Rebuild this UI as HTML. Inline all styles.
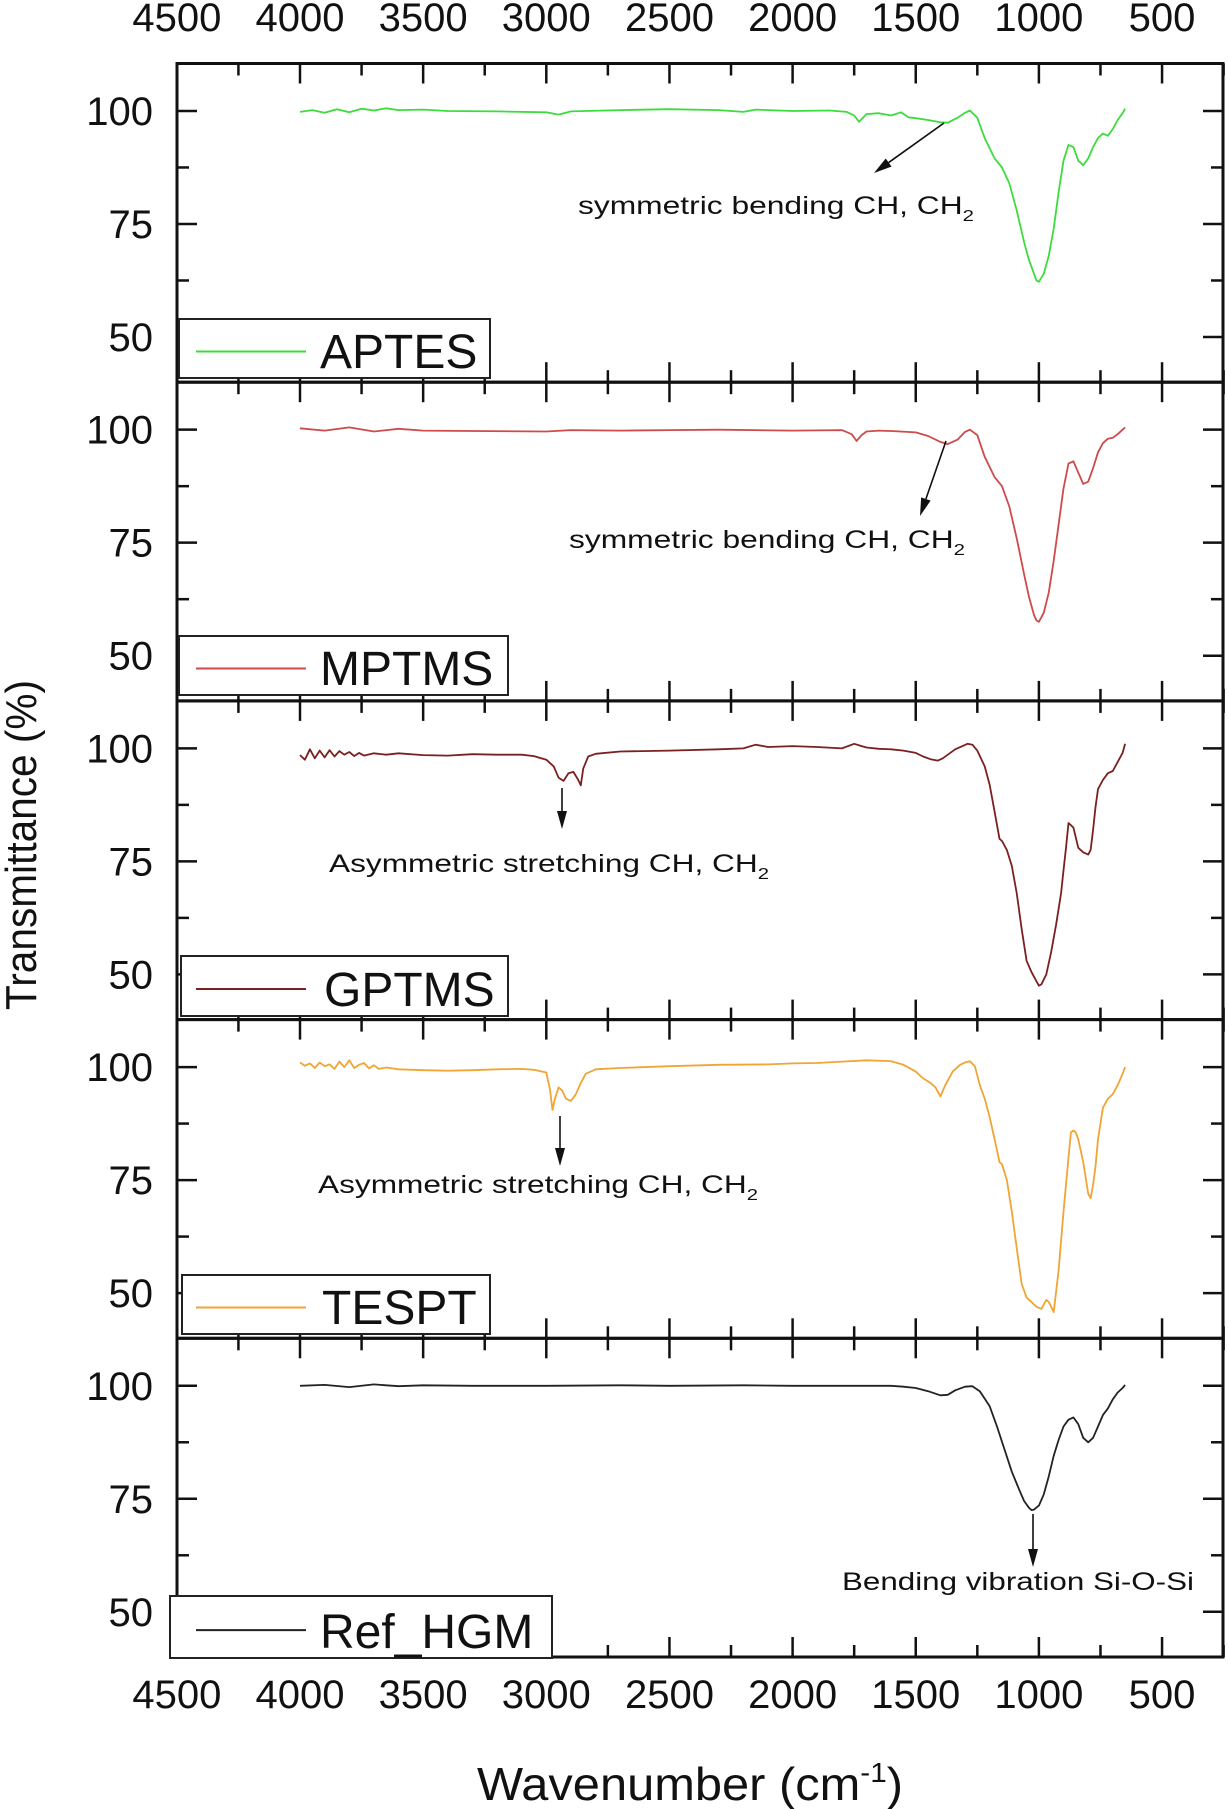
<!DOCTYPE html>
<html><head><meta charset="utf-8"><style>
html,body{margin:0;padding:0;background:#fff}
svg{display:block}
text{font-family:"Liberation Sans",Arial,sans-serif;fill:#111}
</style></head><body>
<svg id="chart" width="1228" height="1809" viewBox="0 0 1228 1809" xmlns="http://www.w3.org/2000/svg">
<g id="plots"></g>
<g id="axes"></g>
<text x="0" y="0" font-size="44" text-anchor="middle" textLength="330" lengthAdjust="spacingAndGlyphs" transform="translate(36,845) rotate(-90)">Transmittance (%)</text>
<text x="690" y="1800" font-size="46" text-anchor="middle" textLength="426" lengthAdjust="spacingAndGlyphs">Wavenumber (cm<tspan font-size="28" dy="-18">-1</tspan><tspan dy="18">)</tspan></text>
</svg>
<script>
// ---- data ----
const xTicks = [4500,4000,3500,3000,2500,2000,1500,1000,500];
const yTicks = [100,75,50];
const seriesNames = ["APTES","MPTMS","GPTMS","TESPT","Ref_HGM"];
const seriesColors = ["#3ddc3d","#cf4a4a","#7a2020","#f0a535","#222222"];

const wnAPTES = [4000,3950,3900,3850,3800,3750,3700,3650,3600,3500,3400,3200,3000,2950,2900,2700,2500,2300,2200,2150,2000,1850,1780,1750,1730,1700,1650,1600,1560,1530,1500,1450,1400,1370,1330,1300,1280,1250,1220,1180,1150,1120,1090,1060,1040,1020,1010,1000,980,960,940,920,900,880,860,840,820,800,780,760,740,720,700,680,660,650];
const tAPTES  = [99.8,100.2,99.6,100.4,99.7,100.5,100.1,100.6,100.2,100.3,100.0,99.9,99.7,99.2,99.9,100.2,100.4,100.2,99.8,100.3,100.0,100.1,99.8,99.0,97.6,99.3,99.5,99.0,99.7,98.6,98.4,98.0,97.5,97.4,98.5,99.6,100.1,98.5,94.0,89.5,87.5,84.0,78.0,71.0,67.0,64.0,62.5,62.2,64.0,68.0,74.0,82.0,89.0,92.5,92.0,89.0,88.0,89.5,92.0,94.0,95.0,94.5,96.0,98.0,99.5,100.5];

const wnMPTMS = [4000,3900,3800,3700,3600,3500,3300,3000,2900,2700,2500,2300,2000,1800,1760,1740,1720,1700,1650,1600,1500,1450,1400,1370,1330,1300,1280,1250,1220,1180,1150,1120,1090,1060,1040,1020,1010,1000,980,960,940,920,900,880,860,840,820,800,780,760,740,720,700,680,660,650];
const tMPTMS  = [100.3,99.8,100.5,99.6,100.2,99.8,99.7,99.6,99.9,99.8,99.9,100.0,99.8,99.9,99.0,97.5,98.8,99.6,99.8,99.7,99.4,98.6,97.3,96.8,97.8,99.5,100.0,98.8,94.0,89.5,87.5,83.0,76.0,68.0,63.0,59.0,57.8,57.5,59.5,64.0,71.0,79.0,87.0,92.5,93.0,90.5,88.0,88.5,91.5,95.0,97.0,98.0,98.2,99.0,100.0,100.5];

const wnGPTMS = [4000,3980,3960,3940,3920,3900,3880,3860,3840,3820,3800,3780,3760,3740,3700,3650,3600,3500,3400,3300,3200,3100,3050,3000,2970,2950,2930,2910,2890,2870,2860,2850,2830,2800,2700,2500,2300,2200,2150,2100,2000,1900,1800,1750,1720,1700,1650,1600,1550,1500,1470,1440,1410,1390,1370,1340,1310,1290,1270,1250,1220,1200,1180,1160,1150,1130,1110,1090,1070,1050,1030,1010,1000,990,970,950,930,910,900,890,880,870,860,840,820,800,790,780,770,760,740,720,700,680,660,650];
const tGPTMS  = [98.5,97.5,99.8,97.8,99.5,98.0,99.6,98.2,99.4,98.6,99.2,98.3,99.0,98.4,98.9,98.6,98.9,98.5,98.4,98.7,98.6,98.6,98.3,97.5,96.0,93.5,92.8,94.5,94.8,93.0,91.8,95.5,98.2,98.8,99.3,99.5,99.8,100.0,100.8,100.3,100.5,100.3,100.0,101.0,100.5,100.2,99.9,99.8,99.5,99.0,98.2,97.6,97.3,97.8,98.6,99.8,100.5,101.0,100.8,99.5,96.0,92.0,86.0,80.0,79.5,77.5,74.0,68.0,60.0,53.0,50.5,48.5,47.5,47.8,50.0,55.0,61.0,68.0,73.0,78.0,83.5,83.0,82.5,78.0,77.0,76.5,77.5,82.0,87.0,91.0,93.0,94.5,95.0,97.0,99.0,101.0];

const wnTESPT = [4000,3980,3960,3940,3920,3900,3880,3860,3840,3820,3800,3780,3760,3740,3720,3700,3680,3650,3600,3500,3400,3300,3200,3100,3050,3000,2985,2975,2965,2950,2935,2920,2900,2880,2860,2840,2800,2700,2500,2300,2100,2000,1900,1800,1700,1600,1550,1500,1470,1440,1420,1400,1380,1350,1320,1300,1280,1260,1240,1220,1200,1180,1160,1150,1130,1110,1090,1070,1050,1030,1010,990,980,970,960,950,940,920,900,880,870,860,850,840,820,800,790,780,770,760,740,720,700,680,660,650];
const tTESPT  = [101.0,100.3,100.8,99.8,101.0,100.2,100.6,99.6,101.2,100.0,101.5,99.8,100.5,100.9,99.7,100.4,99.6,99.9,99.5,99.3,99.2,99.3,99.5,99.6,99.4,98.8,95.0,90.5,93.0,95.5,94.8,93.0,92.5,94.0,96.5,98.5,99.5,99.8,100.2,100.5,100.6,100.8,100.9,101.2,101.5,101.3,100.5,99.0,97.5,96.5,95.5,93.5,96.0,99.0,100.5,101.0,101.3,100.2,96.0,93.0,89.0,84.0,79.0,78.5,75.0,68.0,60.0,52.0,49.0,48.0,47.0,46.5,47.5,48.5,48.0,47.0,45.8,55.0,68.0,80.0,85.5,86.0,85.5,84.0,79.0,72.0,71.0,74.0,78.0,84.0,91.0,93.0,94.0,96.0,98.5,100.0];

const wnHGM = [4000,3900,3800,3700,3600,3500,3300,3000,2700,2500,2200,2000,1800,1600,1550,1500,1450,1400,1370,1340,1300,1270,1240,1200,1170,1140,1110,1080,1060,1040,1030,1020,1000,980,960,940,920,900,880,860,840,820,800,780,760,740,720,700,680,660,650];
const tHGM  = [100.0,100.2,99.7,100.3,99.9,100.1,100.0,100.0,100.1,100.0,100.1,100.0,100.0,100.0,99.8,99.5,98.8,97.9,98.0,99.0,99.8,99.9,98.8,95.5,91.0,86.0,81.0,77.0,74.5,73.0,72.5,72.6,73.5,76.0,80.0,84.5,88.0,91.0,92.5,93.0,91.5,88.5,87.5,88.5,91.0,93.5,95.0,97.0,98.5,99.5,100.2];

const allWn = [wnAPTES,wnMPTMS,wnGPTMS,wnTESPT,wnHGM];
const allT = [tAPTES,tMPTMS,tGPTMS,tTESPT,tHGM];

// ---- geometry ----
const NS = "http://www.w3.org/2000/svg";
const X0 = 177, X1 = 1223, PTOP = 63.5, PH = 318.7;
const YMAX = 110.5, YMIN = 40;
function xs(w){ return 300 + (4000 - w) * 0.2463; }
function ys(v, p){ return PTOP + p*PH + (YMAX - v) * (PH/(YMAX-YMIN)); }
function mk(tag, attrs, parent){ const e=document.createElementNS(NS,tag); for(const k in attrs) e.setAttribute(k,attrs[k]); parent.appendChild(e); return e; }

const plots = document.getElementById('plots');
const axes = document.getElementById('axes');

// series
for(let p=0;p<5;p++){
  const wn = allWn[p], t = allT[p];
  let d = "";
  for(let i=0;i<wn.length;i++) d += (i?"L":"M") + xs(wn[i]).toFixed(1) + "," + ys(t[i],p).toFixed(1);
  const path = mk('path',{d:d,fill:'none',stroke:seriesColors[p],'stroke-width':'1.8','stroke-linejoin':'round'},plots);
  
  
}

// frame + ticks
for(let p=0;p<5;p++){
  const top = PTOP + p*PH, bot = top + PH;
  const fr = mk('rect',{x:X0,y:top,width:X1-X0,height:PH,fill:'none',stroke:'#111','stroke-width':'3'},axes);
  
  
  for(let w=4500; w>=250; w-=250){
    const major = (w % 500 === 0);
    const L = major ? 20 : 12;
    const x = xs(w);
    mk('line',{x1:x,y1:top,x2:x,y2:top+L,stroke:'#111','stroke-width':'2.5'},axes);
    mk('line',{x1:x,y1:bot,x2:x,y2:bot-L,stroke:'#111','stroke-width':'2.5'},axes);
  }
  for(let v=50; v<=100; v+=12.5){
    const major = (v % 25 === 0);
    const L = major ? 20 : 12;
    const y = ys(v,p);
    mk('line',{x1:X0,y1:y,x2:X0+L,y2:y,stroke:'#111','stroke-width':'2.5'},axes);
    mk('line',{x1:X1,y1:y,x2:X1-L,y2:y,stroke:'#111','stroke-width':'2.5'},axes);
  }
  yTicks.forEach(v=>{
    const t = mk('text',{x:153,y:ys(v,p)+14,'font-size':'40','text-anchor':'end'},axes);
    t.textContent = v;
    
    
  });
}
// x tick labels top & bottom
xTicks.forEach(w=>{
  const a = mk('text',{x:xs(w),y:31,'font-size':'40','text-anchor':'middle'},axes);
  a.textContent = w;
  
  
  const b = mk('text',{x:xs(w),y:1708,'font-size':'40','text-anchor':'middle'},axes);
  b.textContent = w;
  
  
});

// legends
const legendBoxes = [[179,319,311,59,320],[179,636,329,59,320],[181,956,327,60,324],[182,1275,308,59,322],[170,1596,382,62,320]];
for(let p=0;p<5;p++){
  const [bx,by,bw,bh,tx] = legendBoxes[p];
  const g = mk('g',{},axes);
  
  
  mk('rect',{x:bx,y:by,width:bw,height:bh,fill:'#fff',stroke:'#222','stroke-width':'2'},g);
  const cy = by + bh*0.55;
  mk('line',{x1:196,y1:cy,x2:306,y2:cy,stroke:seriesColors[p],'stroke-width':'2'},g);
  const t = mk('text',{x:tx,y:by+bh-10,'font-size':'48'},g);
  t.textContent = seriesNames[p];
}

// annotations
const ann = [
 [944,123,874,173,776,214,"symmetric bending CH, CH",396],
 [946,441,920,516,767,548,"symmetric bending CH, CH",396],
 [562,788,562,829,549,872,"Asymmetric stretching CH, CH",440],
 [560,1116,560,1166,538,1193,"Asymmetric stretching CH, CH",440],
 [1033,1514,1033,1567,1018,1590,"Bending vibration Si-O-Si",352]
];
ann.forEach((a,i)=>{
  const [x1,y1,x2,y2,tx,ty,label,tl] = a;
  const g = mk('g',{},axes);
  
  
  const ang = Math.atan2(y2-y1,x2-x1);
  const hx = x2 - 18*Math.cos(ang), hy = y2 - 18*Math.sin(ang);
  mk('line',{x1:x1,y1:y1,x2:hx,y2:hy,stroke:'#111','stroke-width':'1.6'},g);
  const px = -Math.sin(ang)*5, py = Math.cos(ang)*5;
  mk('polygon',{points:`${x2},${y2} ${hx+px},${hy+py} ${hx-px},${hy-py}`,fill:'#111'},g);
  const t = mk('text',{x:tx,y:ty,'font-size':'25','text-anchor':'middle',textLength:tl,lengthAdjust:'spacingAndGlyphs'},g);
  if(label.endsWith("CH")){
    t.textContent = label;
    const s = document.createElementNS(NS,'tspan');
    s.setAttribute('font-size','16'); s.setAttribute('dy','7'); s.textContent='2';
    t.appendChild(s);
  } else t.textContent = label;
});
</script>
</body></html>
